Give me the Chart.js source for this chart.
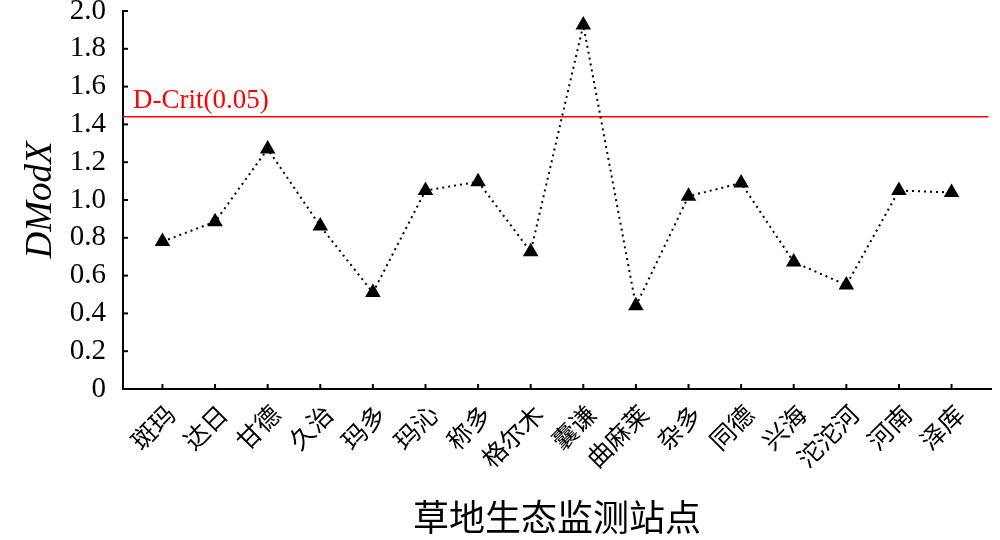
<!DOCTYPE html>
<html>
<head>
<meta charset="utf-8">
<script src="https://cdn.jsdelivr.net/npm/chart.js@4.4.1/dist/chart.umd.min.js"></script>
<style>
  body { margin: 0; background: #fff; }
  #wrap { width: 1000px; height: 540px; }
</style>
</head>
<body>
<div id="wrap"><canvas id="grafDModX"></canvas></div>
<script>
// stanice i vrijednosti procitane sa slike
var stanice = ["斑玛","达日","甘德","久治","玛多","玛沁","称多","格尔木","囊谦","曲麻莱","杂多","同德","兴海","沱沱河","河南","泽库"];
var dmodx = [0.78, 0.885, 1.27, 0.862, 0.51, 1.05, 1.097, 0.726, 1.926, 0.44, 1.02, 1.09, 0.672, 0.55, 1.05, 1.04];
var yOznake = [0, 0.2, 0.4, 0.6, 0.8, 1.0, 1.2, 1.4, 1.6, 1.8, 2.0];
var dCrit = 1.44;
var dCritOznaka = "D-Crit(0.05)";

var serif = "'Liberation Serif', 'Times New Roman', serif";
var cjk = "'Noto Sans CJK SC', sans-serif";

// unutarnje crtice na osima + natpis kriticne linije
var dodatak = {
    id: 'dodatak',
    afterDraw: function(chart){
        var ctx = chart.ctx;
        var x = chart.scales.x, y = chart.scales.y;
        ctx.save();
        ctx.strokeStyle = '#000';
        ctx.lineWidth = 2;
        y.ticks.forEach(function(t){
            var py = y.getPixelForValue(t.value);
            ctx.beginPath();
            ctx.moveTo(x.left, py);
            ctx.lineTo(x.left + 5, py);
            ctx.stroke();
        });
        x.ticks.forEach(function(t){
            var px = x.getPixelForValue(t.value);
            ctx.beginPath();
            ctx.moveTo(px, y.bottom);
            ctx.lineTo(px, y.bottom - 5);
            ctx.stroke();
        });
        ctx.fillStyle = '#ff0000';
        ctx.font = "27px " + serif;
        ctx.textBaseline = 'alphabetic';
        ctx.fillText(dCritOznaka, x.left + 10, y.getPixelForValue(dCrit) - 9);
        ctx.restore();
    }
};

var tocke = dmodx.map(function(v, i){ return {x: i, y: v}; });

var graf = new Chart(document.getElementById("grafDModX"), {
    type: 'line',
    data: {
        datasets: [{
            label: 'DModX',
            data: tocke,
            borderColor: '#000',
            borderWidth: 2,
            borderDash: [2, 4],
            fill: false,
            tension: 0,
            pointStyle: 'triangle',
            pointRadius: 7,
            pointBackgroundColor: '#000',
            pointBorderColor: '#000'
        }, {
            label: dCritOznaka,
            data: [{x: -0.75, y: dCrit}, {x: 15.7, y: dCrit}],
            borderColor: '#ff0000',
            borderWidth: 1.5,
            pointRadius: 0,
            fill: false
        }]
    },
    options: {
        responsive: true,
        maintainAspectRatio: false,
        animation: false,
        layout: { padding: { top: 11, right: 7, left: 0, bottom: 0 } },
        plugins: { legend: { display: false }, tooltip: { enabled: false } },
        scales: {
            x: {
                type: 'linear',
                min: -0.75,
                max: 15.75,
                grid: { display: false },
                border: { display: true, color: '#000', width: 2 },
                afterBuildTicks: function(scale){
                    scale.ticks = stanice.map(function(s, i){ return {value: i}; });
                },
                ticks: {
                    autoSkip: false,
                    maxRotation: 45,
                    minRotation: 45,
                    padding: 2,
                    labelOffset: 8,
                    color: '#000',
                    font: { family: cjk, size: 25 },
                    callback: function(v){ return stanice[v]; }
                },
                title: {
                    display: true,
                    text: '草地生态监测站点',
                    color: '#000',
                    font: { family: cjk, size: 36 },
                    padding: { top: 0, bottom: 1 }
                },
                afterFit: function(scale){
                    scale.height = 151;
                    scale.paddingLeft = 0;
                    scale.paddingRight = 0;
                }
            },
            y: {
                min: 0,
                max: 2,
                grid: { display: false },
                border: { display: true, color: '#000', width: 2 },
                afterBuildTicks: function(scale){
                    scale.ticks = yOznake.map(function(v){ return {value: v}; });
                },
                ticks: {
                    padding: 9,
                    color: '#000',
                    font: { family: serif, size: 29 },
                    callback: function(v){ return v === 0 ? '0' : v.toFixed(1); }
                },
                title: {
                    display: true,
                    text: 'DModX',
                    color: '#000',
                    font: { family: serif, size: 37, style: 'italic' },
                    padding: { top: 19, bottom: 0 }
                },
                afterFit: function(scale){
                    scale.width = 123;
                    scale.paddingTop = 0;
                    scale.paddingBottom = 0;
                }
            }
        }
    },
    plugins: [dodatak]
});
</script>
</body>
</html>
